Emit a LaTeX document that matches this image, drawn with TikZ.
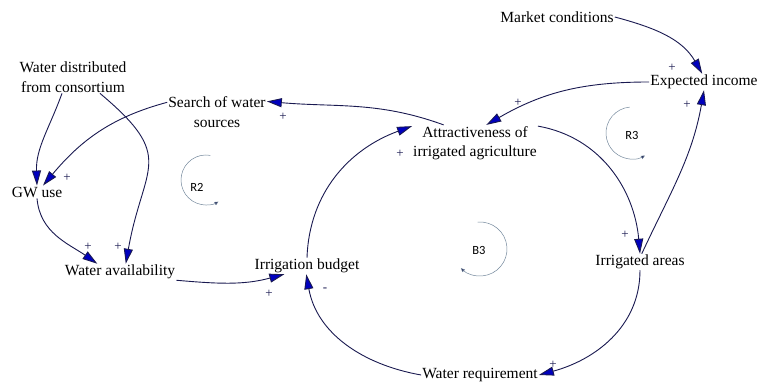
\documentclass[tikz,border=0pt]{standalone}
\usepackage{fontspec}
\setmainfont{Liberation Serif}
\newfontfamily\loopfont{Carlito}
\usetikzlibrary{arrows.meta,positioning}
\definecolor{linkcol}{RGB}{25,25,80}
\definecolor{headcol}{RGB}{0,0,190}
\definecolor{loopcol}{RGB}{115,135,155}
\tikzset{
	var/.style={inner sep=1pt, align=center, font=\fontsize{15.5}{19.5}\selectfont},
	link/.style={draw=linkcol, line width=0.9pt, -{Triangle[length=15pt,width=9pt,fill=headcol]}},
	sign/.style={inner sep=0pt, text=linkcol, font=\fontsize{13}{13}\selectfont},
	looplabel/.style={inner sep=0pt, font=\loopfont\fontsize{12.5}{12.5}\selectfont},
	loopline/.style={draw=loopcol, line width=0.5pt, -{Triangle[length=4pt,width=3.5pt,fill=linkcol]}}
}
\begin{document}
\begin{tikzpicture}[x=1pt,y=1pt]
	\useasboundingbox (0,0) rectangle (761,385);
	% variables
	\node[var] (wdc) at (73,308) {Water distributed\\from consortium};
	\node[var] (gw) at (37,193) {GW use};
	\node[var] (wa) at (120,113) {Water availability};
	\node[var] (search) at (217,273) {Search of water\\sources};
	\node[var] (attr) at (475,242) {Attractiveness of\\irrigated agriculture};
	\node[var] (market) at (557,368) {Market conditions};
	\node[var] (income) at (704,303) {Expected income};
	\node[var] (budget) at (307,119) {Irrigation budget};
	\node[var] (areas) at (640,123) {Irrigated areas};
	\node[var] (req) at (480,10) {Water requirement};

	% links
	\draw[link] ([xshift=-11pt]wdc.south) to[out=250,in=92] (gw.north);
	\draw[link] ([xshift=27pt]wdc.south) to[out=-40,in=80,looseness=1.5] (wa.55);
	\draw[link] (search.169) to[out=195,in=50] (gw.47);
	\draw[link] (gw.south) to[out=-85,in=145] (wa.160);
	\draw[link] (wa.south east) to[out=-5,in=195] (budget.200);
	\draw[link] (req.west) to[out=170,in=-80] (budget.265);
	\draw[link] (budget.north) to[out=88,in=200] (attr.165);
	\draw[link] (attr.150) to[out=160,in=-5] (search.12);
	\draw[link] (income.west) to[out=180,in=30] (attr.58);
	\draw[link] (market.east) to[out=-15,in=120] (income.102);
	\draw[link] (attr.15) to[out=-10,in=95] (areas.north);
	\draw[link] (areas.78) to[out=65,in=-100] (income.south);
	\draw[link] (areas.south) to[out=-90,in=15] (req.east);

	% polarities
	\node[sign] (s1) at (67,207) {+};
	\node[sign] (s2) at (88,138) {+};
	\node[sign] (s3) at (118,138) {+};
	\node[sign] (s4) at (269,91) {+};
	\node[sign] (s5) at (325,95) {-};
	\node[sign] (s6) at (400,231) {+};
	\node[sign] (s7) at (283,268) {+};
	\node[sign] (s8) at (518,282) {+};
	\node[sign] (s9) at (672,317) {+};
	\node[sign] (s10) at (625,150) {+};
	\node[sign] (s11) at (687,280) {+};
	\node[sign] (s12) at (553,20) {+};

	% loops
	\node[looplabel] (r2) at (197,198) {R2};
	\draw[loopline] (206,205) ++(80:25) arc[start angle=80, end angle=300, radius=25];
	\node[looplabel] (r3) at (632,250) {R3};
	\draw[loopline] (632,252) ++(95:26) arc[start angle=95, end angle=300, radius=26];
	\node[looplabel] (b3) at (479,135) {B3};
	\draw[loopline] (480,136) ++(95:27) arc[start angle=95, end angle=-135, radius=27];
\end{tikzpicture}
\end{document}
